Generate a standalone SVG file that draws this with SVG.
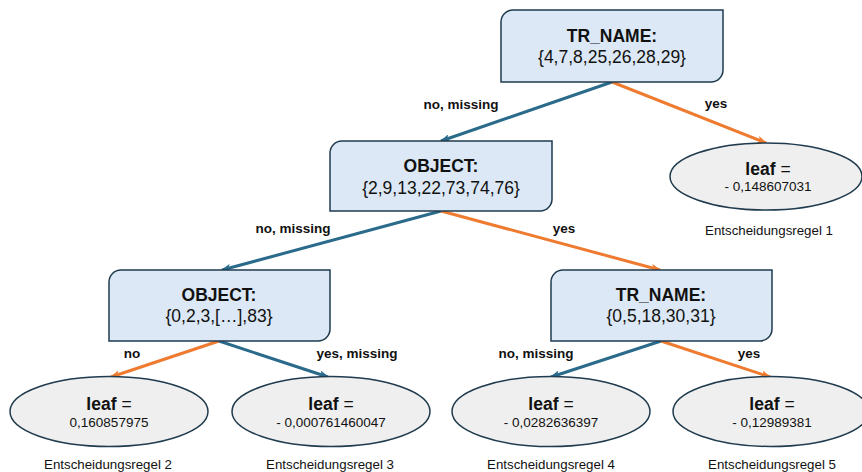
<svg xmlns="http://www.w3.org/2000/svg" width="862" height="472" viewBox="0 0 862 472">
<defs>
<style>
.box{fill:#dce8f5;stroke:#1f3b4d;stroke-width:1.5}
.leaf{fill:#efefef;stroke:#1f3b4d;stroke-width:1.5}
text{font-family:"Liberation Sans",Arial,sans-serif;fill:#111;text-anchor:middle}
.t{font-weight:bold;font-size:17.5px}
.v{font-size:17.5px}
.lb{font-weight:bold;font-size:17.5px}
.lv{font-size:13.5px}
.rule{font-size:13.3px}
.el{font-weight:bold;font-size:13.5px}
.blue{stroke:#2a6a8a;stroke-width:3;fill:none}
.orange{stroke:#ee7b30;stroke-width:3;fill:none}
</style>
<marker id="ab" viewBox="0 0 10 8" refX="9" refY="4" markerWidth="10" markerHeight="8" markerUnits="userSpaceOnUse" orient="auto">
<path d="M0,0 L10,4 L0,8 L2.5,4 Z" fill="#2a6a8a"/>
</marker>
<marker id="ao" viewBox="0 0 10 8" refX="9" refY="4" markerWidth="10" markerHeight="8" markerUnits="userSpaceOnUse" orient="auto">
<path d="M0,0 L10,4 L0,8 L2.5,4 Z" fill="#ee7b30"/>
</marker>
</defs>
<rect width="862" height="472" fill="#ffffff"/>
<g id="connectors">
<line class="blue" x1="612" y1="82" x2="441" y2="141" marker-end="url(#ab)"/>
<line class="orange" x1="612" y1="82" x2="766" y2="143" marker-end="url(#ao)"/>
<line class="blue" x1="441" y1="211" x2="222" y2="270" marker-end="url(#ab)"/>
<line class="orange" x1="441" y1="211" x2="660" y2="270" marker-end="url(#ao)"/>
<line class="orange" x1="219" y1="341" x2="111" y2="377" marker-end="url(#ao)"/>
<line class="blue" x1="219" y1="341" x2="328" y2="377" marker-end="url(#ab)"/>
<line class="blue" x1="661" y1="341" x2="551" y2="377" marker-end="url(#ab)"/>
<line class="orange" x1="661" y1="341" x2="770" y2="377" marker-end="url(#ao)"/>
<text class="el" x="461" y="109">no, missing</text>
<text class="el" x="716" y="108">yes</text>
<text class="el" x="293" y="233">no, missing</text>
<text class="el" x="564" y="233">yes</text>
<text class="el" x="132" y="358">no</text>
<text class="el" x="357" y="358">yes, missing</text>
<text class="el" x="536" y="358">no, missing</text>
<text class="el" x="749" y="358">yes</text>
</g>
<g id="n1">
<path class="box" d="M513,10 H723 V70 A12,12 0 0 1 711,82 H501 V22 A12,12 0 0 1 513,10 Z"/>
<text class="t" x="612" y="42">TR_NAME:</text>
<text class="v" x="612" y="63">{4,7,8,25,26,28,29}</text>
</g>
<g id="n2">
<path class="box" d="M342,141 H552 V199 A12,12 0 0 1 540,211 H330 V153 A12,12 0 0 1 342,141 Z"/>
<text class="t" x="441" y="172">OBJECT:</text>
<text class="v" x="441" y="194">{2,9,13,22,73,74,76}</text>
</g>
<g id="n3">
<path class="box" d="M121,270 H330 V329 A12,12 0 0 1 318,341 H109 V282 A12,12 0 0 1 121,270 Z"/>
<text class="t" x="219" y="301">OBJECT:</text>
<text class="v" x="219" y="322">{0,2,3,[…],83}</text>
</g>
<g id="n4">
<path class="box" d="M563,270 H772 V329 A12,12 0 0 1 760,341 H551 V282 A12,12 0 0 1 563,270 Z"/>
<text class="t" x="661" y="301">TR_NAME:</text>
<text class="v" x="661" y="322">{0,5,18,30,31}</text>
</g>
<g id="leaf1">
<ellipse class="leaf" cx="766" cy="176.5" rx="96" ry="33.5"/>
<text class="lb" x="768" y="175">leaf <tspan font-weight="normal">=</tspan></text>
<text class="lv" x="768" y="191">- 0,148607031</text>
<text class="rule" x="769" y="235">Entscheidungsregel 1</text>
</g>
<g id="leaf2">
<ellipse class="leaf" cx="109" cy="411.5" rx="99" ry="35"/>
<text class="lb" x="109" y="410">leaf <tspan font-weight="normal">=</tspan></text>
<text class="lv" x="109" y="427">0,160857975</text>
<text class="rule" x="108" y="469">Entscheidungsregel 2</text>
</g>
<g id="leaf3">
<ellipse class="leaf" cx="331" cy="411.5" rx="99" ry="35"/>
<text class="lb" x="331" y="410">leaf <tspan font-weight="normal">=</tspan></text>
<text class="lv" x="331" y="427">- 0,000761460047</text>
<text class="rule" x="330" y="469">Entscheidungsregel 3</text>
</g>
<g id="leaf4">
<ellipse class="leaf" cx="551" cy="411.5" rx="99" ry="35"/>
<text class="lb" x="551" y="410">leaf <tspan font-weight="normal">=</tspan></text>
<text class="lv" x="551" y="427">- 0,0282636397</text>
<text class="rule" x="551" y="469">Entscheidungsregel 4</text>
</g>
<g id="leaf5">
<ellipse class="leaf" cx="771" cy="411.5" rx="98" ry="35"/>
<text class="lb" x="772" y="410">leaf <tspan font-weight="normal">=</tspan></text>
<text class="lv" x="772" y="427">- 0,12989381</text>
<text class="rule" x="772" y="469">Entscheidungsregel 5</text>
</g>
</svg>
